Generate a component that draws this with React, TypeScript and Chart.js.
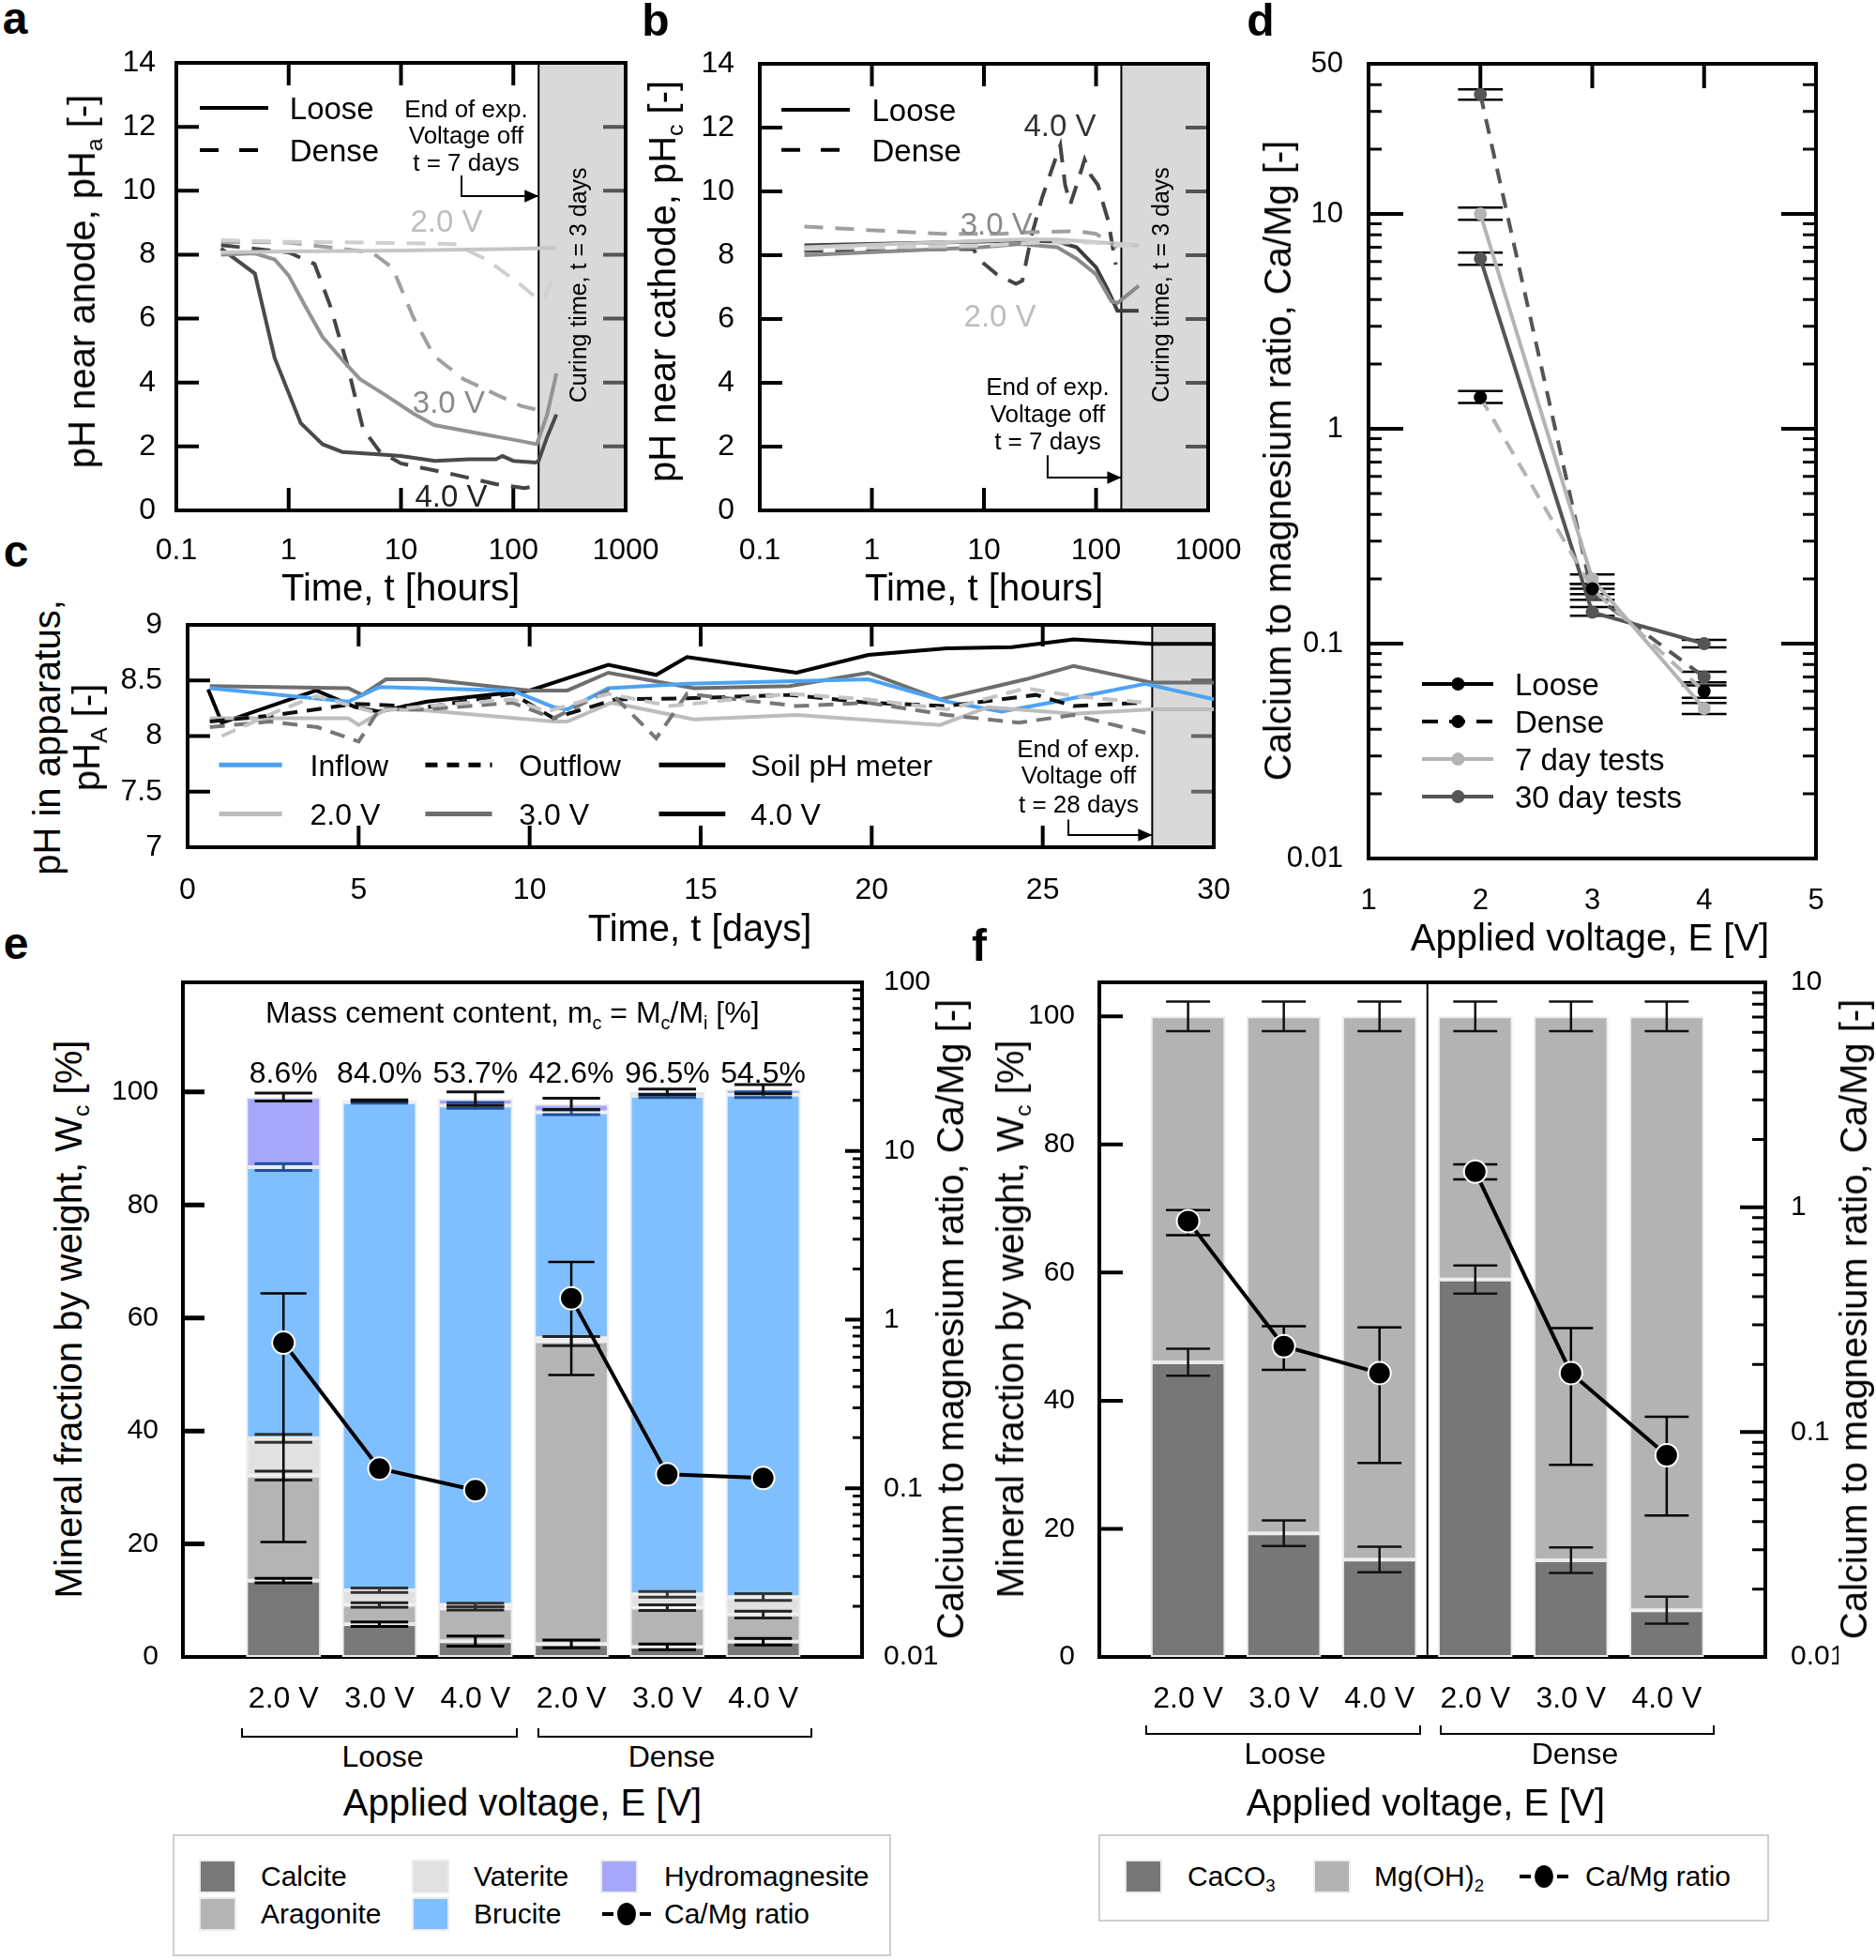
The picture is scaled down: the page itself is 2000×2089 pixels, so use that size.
import React, { useEffect, useRef } from 'react';
import { Chart, registerables } from 'chart.js';

Chart.register(...registerables);

const FONT = "'Liberation Sans', Arial, Helvetica, sans-serif";

/* ================= Panel a : pH near anode ================= */
const HOUR_TICKS = [0.1, 1, 10, 100, 1000];
const HOUR_TICK_LABELS = ['0.1', '1', '10', '100', '1000'];
const PH_TICKS = [0, 2, 4, 6, 8, 10, 12, 14];
const PH_TICK_LABELS = ['0', '2', '4', '6', '8', '10', '12', '14'];
const CURING_START_H = 168;
const CURING_END_H = 1000;

const A_LOOSE_4V_T = [0.25, 0.5, 0.75, 1.28, 2.0, 3.0, 5.5, 10, 20, 40, 70, 80, 100, 158, 168, 200, 242];
const A_LOOSE_4V_PH = [8.19, 7.41, 4.77, 2.73, 2.07, 1.83, 1.77, 1.7, 1.55, 1.6, 1.6, 1.7, 1.55, 1.5, 1.55, 2.3, 3.0];
const A_LOOSE_3V_T = [0.25, 0.5, 0.75, 1.0, 1.4, 2.0, 3.0, 4.3, 7.1, 12.9, 19.7, 46, 108, 162, 200, 242];
const A_LOOSE_3V_PH = [8.0, 8.04, 7.85, 7.35, 6.4, 5.43, 4.71, 4.11, 3.63, 3.03, 2.67, 2.43, 2.19, 2.07, 3.0, 4.29];
const A_LOOSE_2V_T = [0.25, 1, 10, 100, 242];
const A_LOOSE_2V_PH = [8.07, 8.1, 8.13, 8.18, 8.21];
const A_DENSE_2V_T = [0.25, 1, 5, 30, 59, 117, 163, 190, 220];
const A_DENSE_2V_PH = [8.45, 8.4, 8.38, 8.33, 7.83, 7.05, 6.63, 6.7, 7.17];
const A_DENSE_3V_T = [0.25, 1, 5.5, 8.4, 12.9, 19.7, 36, 70, 117, 163];
const A_DENSE_3V_PH = [8.4, 8.38, 8.07, 7.59, 6.03, 4.83, 4.11, 3.63, 3.27, 3.15];
const A_DENSE_4V_T = [0.25, 1, 1.7, 2.35, 3.3, 4.6, 6.5, 10, 30, 70, 126, 162];
const A_DENSE_4V_PH = [8.3, 8.07, 7.71, 6.39, 4.59, 2.55, 1.83, 1.47, 1.12, 0.82, 0.7, 0.76];

/* ================= Panel b : pH near cathode ================= */
const B_LOOSE_4V_T = [0.25, 9.5, 21, 45, 67, 100, 127, 155, 168, 240];
const B_LOOSE_4V_PH = [8.31, 8.43, 8.46, 8.43, 8.25, 7.62, 6.92, 6.26, 6.26, 6.26];
const B_LOOSE_3V_T = [0.25, 9.5, 21, 45, 67, 100, 137, 155, 240];
const B_LOOSE_3V_PH = [8.0, 8.25, 8.35, 8.25, 7.89, 7.4, 6.56, 6.5, 7.04];
const B_LOOSE_2V_T = [0.25, 21, 45, 150, 240];
const B_LOOSE_2V_PH = [8.25, 8.49, 8.49, 8.37, 8.3];
const B_DENSE_3V_T = [0.25, 0.91, 4.3, 14, 30, 67, 100, 137, 155];
const B_DENSE_3V_PH = [8.9, 8.79, 8.67, 8.67, 8.73, 8.75, 8.67, 8.37, 8.25];
const B_DENSE_2V_T = [0.25, 10, 30, 100, 160, 240];
const B_DENSE_2V_PH = [8.2, 8.3, 8.4, 8.4, 8.3, 8.3];
const B_DENSE_4V_T = [0.25, 8, 9.5, 13, 19.3, 22, 26.5, 33, 42, 48, 53, 59, 70, 79, 90, 104, 116, 128, 150];
const B_DENSE_4V_PH = [8.13, 8.2, 7.8, 7.4, 7.1, 7.2, 8.6, 9.8, 10.87, 11.44, 10.2, 9.6, 10.4, 11.0, 10.5, 10.2, 9.6, 9.1, 7.7];

/* ================= Panel c : pH in apparatus ================= */
const DAY_TICKS = [0, 5, 10, 15, 20, 25, 30];
const DAY_TICK_LABELS = ['0', '5', '10', '15', '20', '25', '30'];
const PHA_TICKS = [7, 7.5, 8, 8.5, 9];
const PHA_TICK_LABELS = ['7', '7.5', '8', '8.5', '9'];
const CURING_START_D = 28.2;

const C_INFLOW_D = [0.65, 4.7, 5.6, 9.5, 10.7, 11.1, 12.3, 14.6, 19.9, 22.2, 23.8, 25.2, 28.0, 30];
const C_INFLOW_PH = [8.43, 8.31, 8.44, 8.41, 8.26, 8.24, 8.43, 8.47, 8.51, 8.31, 8.22, 8.3, 8.47, 8.33];
const C_SOIL_3V_D = [0.65, 4.7, 5.1, 5.8, 7.0, 10, 11.1, 12.3, 14.8, 17.6, 19.9, 22.0, 24.5, 25.9, 28.2, 30];
const C_SOIL_3V_PH = [8.45, 8.43, 8.37, 8.51, 8.51, 8.41, 8.41, 8.57, 8.43, 8.45, 8.57, 8.33, 8.51, 8.63, 8.48, 8.48];
const C_SOIL_4V_D = [0.6, 1.0, 3.76, 4.9, 5.6, 7.0, 10, 11.1, 12.3, 13.7, 14.6, 17.8, 19.9, 22.2, 24.1, 25.9, 28.2, 30];
const C_SOIL_4V_PH = [8.42, 8.12, 8.41, 8.26, 8.22, 8.31, 8.41, 8.52, 8.64, 8.55, 8.71, 8.57, 8.73, 8.79, 8.8, 8.87, 8.83, 8.83];
const C_SOIL_2V_D = [0.65, 4.7, 5.0, 5.8, 7.0, 10.7, 11.1, 12.4, 14.8, 17.8, 22.0, 23.4, 25.9, 28.2, 30];
const C_SOIL_2V_PH = [8.16, 8.16, 8.1, 8.24, 8.23, 8.13, 8.13, 8.3, 8.15, 8.19, 8.1, 8.26, 8.2, 8.24, 8.24];
const C_OUT_4V_D = [0.65, 2.6, 4.9, 7.0, 9.5, 10.7, 12.5, 14.6, 17.6, 19.9, 22.2, 24.8, 25.9, 28.0];
const C_OUT_4V_PH = [8.13, 8.19, 8.29, 8.26, 8.38, 8.16, 8.33, 8.34, 8.37, 8.3, 8.27, 8.37, 8.27, 8.3];
const C_OUT_3V_D = [0.65, 2.4, 3.8, 5.0, 5.6, 7.0, 9.5, 10.7, 12.3, 13.7, 14.6, 17.8, 19.9, 22.2, 24.3, 25.9, 28.0];
const C_OUT_3V_PH = [8.08, 8.13, 8.08, 7.95, 8.24, 8.24, 8.3, 8.16, 8.41, 7.98, 8.38, 8.27, 8.3, 8.19, 8.12, 8.19, 8.03];
const C_OUT_2V_D = [1.0, 2.6, 3.76, 5.4, 7.0, 9.5, 10.5, 12.3, 14.1, 17.6, 19.9, 22.2, 24.5, 25.9, 28.0];
const C_OUT_2V_PH = [8.0, 8.22, 8.36, 8.22, 8.27, 8.33, 8.22, 8.38, 8.27, 8.38, 8.33, 8.24, 8.43, 8.36, 8.3];

/* ================= Panel d : Ca/Mg vs voltage ================= */
const D_VOLTAGE = [2, 3, 4];
const D_XTICKS = [1, 2, 3, 4, 5];
const D_XTICK_LABELS = ['1', '2', '3', '4', '5'];
const D_YTICKS = [0.01, 0.1, 1, 10, 50];
const D_YTICK_LABELS = ['0.01', '0.1', '1', '10', '50'];
const D_LOOSE7 = [10, 0.2, 0.05];
const D_LOOSE7_LO = [9.4, 0.19, 0.047];
const D_LOOSE7_HI = [10.7, 0.21, 0.053];
const D_DENSE7 = [1.4, 0.18, 0.06];
const D_DENSE7_LO = [1.32, 0.17, 0.056];
const D_DENSE7_HI = [1.5, 0.19, 0.064];
const D_LOOSE30 = [6.2, 0.14, 0.1];
const D_LOOSE30_LO = [5.8, 0.135, 0.096];
const D_LOOSE30_HI = [6.6, 0.148, 0.104];
const D_DENSE30 = [36, 0.17, 0.07];
const D_DENSE30_LO = [34, 0.16, 0.066];
const D_DENSE30_HI = [38, 0.18, 0.074];

/* ================= Panel e : mineral fractions (XRD) ================= */
const BAR_LABELS = ['2.0 V', '3.0 V', '4.0 V', '2.0 V', '3.0 V', '4.0 V'];
const E_CALCITE = [13.5, 5.8, 2.8, 2.3, 1.8, 2.7];
const E_ARAGONITE = [18.6, 3.4, 5.8, 53.6, 6.9, 4.8];
const E_VATERITE = [6.6, 2.6, 0.6, 0.5, 2.4, 3.1];
const E_BRUCITE = [48.0, 86.4, 88.4, 40.0, 88.2, 88.9];
const E_HYDRO = [12.4, 0.3, 1.2, 1.5, 0.7, 1.0];
const E_CALCITE_ERR = [0.4, 0.4, 0.9, 0.7, 0.5, 0.6];
const E_ARAGONITE_ERR = [0.8, 0.4, 0.3, 0.8, 0.5, 0.6];
const E_VATERITE_ERR = [0.7, 0.4, 0.3, 0.0, 0.5, 0.6];
const E_BRUCITE_ERR = [0.6, 0.2, 0.5, 0.4, 0.3, 0.5];
const E_HYDRO_ERR = [0.7, 0.1, 1.2, 1.0, 0.5, 0.8];
const E_RATIO = [0.73, 0.131, 0.0975, 1.34, 0.121, 0.115];
const E_RATIO_LO = [0.048, 0.131, 0.0975, 0.47, 0.121, 0.115];
const E_RATIO_HI = [1.43, 0.131, 0.0975, 2.2, 0.121, 0.115];
const E_CEMENT = ['8.6%', '84.0%', '53.7%', '42.6%', '96.5%', '54.5%'];
const E_WT_TICKS = [0, 20, 40, 60, 80, 100];
const E_WT_LABELS = ['0', '20', '40', '60', '80', '100'];
const E_RATIO_TICKS = [0.01, 0.1, 1, 10, 100];
const E_RATIO_LABELS = ['0.01', '0.1', '1', '10', '100'];

/* ================= Panel f : mineral fractions (TGA) ================= */
const F_CACO3 = [46.0, 19.3, 15.2, 58.9, 15.1, 7.3];
const F_MGOH2 = [54.0, 80.7, 84.8, 41.1, 84.9, 92.7];
const F_CACO3_ERR = [2.1, 2.0, 2.0, 2.2, 2.0, 2.1];
const F_MGOH2_ERR = [2.3, 2.3, 2.3, 2.3, 2.3, 2.3];
const F_RATIO = [0.868, 0.241, 0.183, 1.44, 0.183, 0.0789];
const F_RATIO_LO = [0.75, 0.189, 0.0729, 1.33, 0.0715, 0.0426];
const F_RATIO_HI = [0.97, 0.296, 0.292, 1.55, 0.29, 0.117];
const F_RATIO_TICKS = [0.01, 0.1, 1, 10];
const F_RATIO_LABELS = ['0.01', '0.1', '1', '10'];

/* ================= helpers ================= */
function logMinor(min: number, max: number) {
  const out: number[] = [];
  for (let d = Math.floor(Math.log10(min)); d <= Math.ceil(Math.log10(max)); d++) {
    for (let m = 2; m <= 9; m++) {
      const v = +(m * Math.pow(10, d)).toPrecision(6);
      if (v > min * 1.0001 && v < max * 0.9999) out.push(v);
    }
  }
  return out;
}

function pts(xs: number[], ys: number[]) {
  return xs.map((x, i) => ({ x, y: ys[i] }));
}

function lineDs(label: string, xs: number[], ys: number[], color: string, width: number, dash: number[] = [], extra: any = {}) {
  return {
    type: 'line', label, data: pts(xs, ys), borderColor: color, backgroundColor: color,
    borderWidth: width, borderDash: dash, pointRadius: 0, fill: false, tension: 0, ...extra,
  };
}

function scale(o: any) {
  return {
    type: o.type, min: o.min, max: o.max, position: o.position, stacked: !!o.stacked, offset: false,
    grid: { display: false, drawTicks: false }, border: { display: false },
    afterBuildTicks: (s: any) => { s.ticks = o.ticks.map((v: number) => ({ value: v })); },
    afterFit: (s: any) => {
      if (o.w != null) s.width = o.w;
      if (o.h != null) s.height = o.h;
      s.paddingTop = 0; s.paddingBottom = 0; s.paddingLeft = 0; s.paddingRight = 0;
    },
    ticks: {
      font: { family: FONT, size: o.size }, color: '#000', padding: o.pad, autoSkip: false,
      maxRotation: 0, minRotation: 0, callback: (_v: any, i: number) => o.labels[i],
    },
  };
}

function drawRich(ctx: any, item: any, px: number, py: number) {
  const segs = item.segs || [{ t: item.text }];
  const size = item.size;
  const parts = segs.map((s: any) => {
    const fs = s.sub ? size * 0.62 : size;
    ctx.font = `${item.bold ? 'bold ' : ''}${fs}px ${FONT}`;
    return { s, fs, w: ctx.measureText(s.t).width };
  });
  const total = parts.reduce((a: number, p: any) => a + p.w, 0);
  ctx.save();
  ctx.translate(px, py);
  if (item.rotate) ctx.rotate((item.rotate * Math.PI) / 180);
  let x0 = item.align === 'left' ? 0 : item.align === 'right' ? -total : -total / 2;
  ctx.fillStyle = item.color || '#000';
  ctx.textBaseline = 'alphabetic';
  ctx.textAlign = 'left';
  const base = size * 0.36;
  for (const p of parts) {
    ctx.font = `${item.bold ? 'bold ' : ''}${p.fs}px ${FONT}`;
    ctx.fillText(p.s.t, x0, base + (p.s.sub ? size * 0.22 : 0));
    x0 += p.w;
  }
  ctx.restore();
}

function makeDeco(cfg: any) {
  const P = (chart: any, id: string, v: number) => chart.scales[id].getPixelForValue(v);
  const drawErrors = (chart: any) => {
    const ctx = chart.ctx;
    for (const e of cfg.errors || []) {
      if (e.hi === e.lo) continue;
      const xs = e.xs || 'x';
      const x = P(chart, xs, e.x);
      const xl = P(chart, xs, e.x - e.half);
      const xr = P(chart, xs, e.x + e.half);
      const yl = P(chart, e.ys, e.lo);
      const yh = P(chart, e.ys, e.hi);
      ctx.strokeStyle = e.color;
      ctx.lineWidth = e.width;
      ctx.setLineDash([]);
      ctx.beginPath();
      ctx.moveTo(x, yl); ctx.lineTo(x, yh);
      ctx.moveTo(xl, yl); ctx.lineTo(xr, yl);
      ctx.moveTo(xl, yh); ctx.lineTo(xr, yh);
      ctx.stroke();
    }
  };
  let errDone = false;
  return {
    id: 'deco',
    beforeDraw() { errDone = false; },
    beforeDatasetsDraw(chart: any) {
      const ctx = chart.ctx;
      const a = chart.chartArea;
      ctx.save();
      for (const s of cfg.shades || []) {
        const x1 = P(chart, s.scale, s.from);
        const x2 = Math.min(a.right, P(chart, s.scale, s.to));
        ctx.fillStyle = s.color;
        ctx.fillRect(x1, a.top, x2 - x1, a.bottom - a.top);
      }
      for (const v of cfg.vlines || []) {
        const x = P(chart, v.scale, v.value);
        ctx.strokeStyle = v.color; ctx.lineWidth = v.width; ctx.setLineDash([]);
        ctx.beginPath(); ctx.moveTo(x, a.top); ctx.lineTo(x, a.bottom); ctx.stroke();
      }
      for (const t of cfg.ticks || []) {
        const sc = chart.scales[t.scale];
        ctx.strokeStyle = t.color; ctx.lineWidth = t.width; ctx.setLineDash([]);
        ctx.beginPath();
        for (const v of t.values) {
          const p = sc.getPixelForValue(v);
          if (t.side === 'top') { ctx.moveTo(p, a.top); ctx.lineTo(p, a.top + t.len); }
          else if (t.side === 'bottom') { ctx.moveTo(p, a.bottom); ctx.lineTo(p, a.bottom - t.len); }
          else if (t.side === 'left') { ctx.moveTo(a.left, p); ctx.lineTo(a.left + t.len, p); }
          else { ctx.moveTo(a.right, p); ctx.lineTo(a.right - t.len, p); }
        }
        ctx.stroke();
      }
      if (cfg.frame) {
        ctx.strokeStyle = cfg.frame.color; ctx.lineWidth = cfg.frame.width; ctx.setLineDash([]);
        ctx.strokeRect(a.left, a.top, a.right - a.left, a.bottom - a.top);
      }
      if (cfg.errLayer === 'under') drawErrors(chart);
      ctx.restore();
    },
    beforeDatasetDraw(chart: any, args: any) {
      if (cfg.errLayer === 'beforeLine' && !errDone && args.meta.type === 'line') {
        errDone = true;
        chart.ctx.save();
        drawErrors(chart);
        chart.ctx.restore();
      }
    },
    afterDatasetsDraw(chart: any) {
      const ctx = chart.ctx;
      ctx.save();
      if (cfg.errLayer === 'over') drawErrors(chart);
      for (const ar of cfg.arrows || []) {
        const Q = ar.pts.map((p: number[]) => [P(chart, ar.xs || 'x', p[0]), P(chart, ar.ys || 'y', p[1])]);
        ctx.strokeStyle = ar.color; ctx.lineWidth = ar.width; ctx.setLineDash([]);
        ctx.beginPath();
        Q.forEach((p: number[], i: number) => (i ? ctx.lineTo(p[0], p[1]) : ctx.moveTo(p[0], p[1])));
        ctx.stroke();
        const [x2, y2] = Q[Q.length - 1];
        const [x1, y1] = Q[Q.length - 2];
        const ang = Math.atan2(y2 - y1, x2 - x1);
        const h = ar.head;
        ctx.fillStyle = ar.color;
        ctx.beginPath();
        ctx.moveTo(x2, y2);
        ctx.lineTo(x2 - h * Math.cos(ang) + h * 0.45 * Math.sin(ang), y2 - h * Math.sin(ang) - h * 0.45 * Math.cos(ang));
        ctx.lineTo(x2 - h * Math.cos(ang) - h * 0.45 * Math.sin(ang), y2 - h * Math.sin(ang) + h * 0.45 * Math.cos(ang));
        ctx.closePath();
        ctx.fill();
      }
      for (const l of cfg.legend || []) {
        const xs = l.xs || 'x';
        const ys = l.ys || 'y';
        const y = P(chart, ys, l.y);
        ctx.strokeStyle = l.color; ctx.lineWidth = l.width; ctx.setLineDash(l.dash || []);
        ctx.beginPath(); ctx.moveTo(P(chart, xs, l.x1), y); ctx.lineTo(P(chart, xs, l.x2), y); ctx.stroke();
        ctx.setLineDash([]);
        if (l.marker) {
          ctx.fillStyle = l.marker.color;
          ctx.beginPath(); ctx.arc(P(chart, xs, l.marker.x), y, l.marker.r, 0, Math.PI * 2); ctx.fill();
        }
      }
      for (const t of cfg.texts || []) {
        drawRich(ctx, t, P(chart, t.xs || 'x', t.x), P(chart, t.ys || 'y', t.y));
      }
      ctx.restore();
    },
  };
}

function config(type: string, datasets: any[], scales: any, padding: any, deco: any) {
  return {
    type,
    data: { datasets },
    options: {
      responsive: false, animation: false, devicePixelRatio: 1, events: [],
      layout: { padding },
      plugins: { legend: { display: false }, tooltip: { enabled: false } },
      scales,
    },
    plugins: [makeDeco(deco)],
  };
}

/* ================= panel builders ================= */
const DARK = '#4a4a4a';
const MID = '#939393';
const LIGHT = '#c6c6c6';
const DASH = [20, 13];

function hourAxes(fitW: number, yPad: number) {
  return {
    x: scale({ type: 'logarithmic', min: 0.1, max: 1000, ticks: HOUR_TICKS, labels: HOUR_TICK_LABELS, size: 32, pad: 24, h: 116 }),
    y: scale({ type: 'linear', min: 0, max: 14, ticks: PH_TICKS, labels: PH_TICK_LABELS, size: 32, pad: yPad, w: fitW }),
  };
}

function hourTicks() {
  return [
    { scale: 'x', side: 'top', values: [1, 10, 100], len: 24, width: 4, color: '#000' },
    { scale: 'x', side: 'bottom', values: [1, 10, 100], len: 24, width: 4, color: '#000' },
    { scale: 'y', side: 'left', values: [2, 4, 6, 8, 10, 12], len: 24, width: 4, color: '#000' },
    { scale: 'y', side: 'right', values: [2, 4, 6, 8, 10, 12], len: 24, width: 4, color: '#555' },
  ];
}

function makeA() {
  const ds = [
    lineDs('Loose 2.0 V', A_LOOSE_2V_T, A_LOOSE_2V_PH, LIGHT, 4),
    lineDs('Dense 2.0 V', A_DENSE_2V_T, A_DENSE_2V_PH, '#cfcfcf', 4, DASH),
    lineDs('Loose 3.0 V', A_LOOSE_3V_T, A_LOOSE_3V_PH, MID, 4),
    lineDs('Dense 3.0 V', A_DENSE_3V_T, A_DENSE_3V_PH, '#a0a0a0', 4, DASH),
    lineDs('Dense 4.0 V', A_DENSE_4V_T, A_DENSE_4V_PH, '#454545', 4, DASH),
    lineDs('Loose 4.0 V', A_LOOSE_4V_T, A_LOOSE_4V_PH, DARK, 4),
  ];
  const deco = {
    shades: [{ scale: 'x', from: CURING_START_H, to: CURING_END_H, color: '#d9d9d9' }],
    vlines: [{ scale: 'x', value: CURING_START_H, width: 2, color: '#000' }],
    ticks: hourTicks(),
    frame: { width: 4, color: '#000' },
    arrows: [{ pts: [[34.6, 10.48], [34.6, 9.83], [CURING_START_H, 9.83]], color: '#000', width: 2, head: 15 }],
    legend: [
      { x1: 0.162, x2: 0.658, y: 12.59, color: '#000', width: 4 },
      { x1: 0.162, x2: 0.658, y: 11.27, color: '#000', width: 4, dash: [20, 22] },
    ],
    texts: [
      { x: 1.02, y: 12.59, text: 'Loose', size: 33, align: 'left' },
      { x: 1.02, y: 11.27, text: 'Dense', size: 33, align: 'left' },
      { x: 38, y: 12.56, text: 'End of exp.', size: 26 },
      { x: 38, y: 11.74, text: 'Voltage off', size: 26 },
      { x: 38, y: 10.89, text: 't = 7 days', size: 26 },
      { x: 25.4, y: 9.07, text: '2.0 V', size: 33, color: '#bdbdbd' },
      { x: 26.6, y: 3.4, text: '3.0 V', size: 33, color: '#8a8a8a' },
      { x: 28, y: 0.47, text: '4.0 V', size: 33, color: '#222' },
      { x: 375, y: 7.05, text: 'Curing time, t = 3 days', size: 25, rotate: -90 },
    ],
  };
  return config('line', ds, hourAxes(88, 22), { left: 0, top: 27, right: 36, bottom: 0 }, deco);
}

function makeB() {
  const ds = [
    lineDs('Dense 2.0 V', B_DENSE_2V_T, B_DENSE_2V_PH, '#cfcfcf', 4, DASH),
    lineDs('Dense 3.0 V', B_DENSE_3V_T, B_DENSE_3V_PH, '#a0a0a0', 4, DASH),
    lineDs('Loose 2.0 V', B_LOOSE_2V_T, B_LOOSE_2V_PH, LIGHT, 4),
    lineDs('Loose 3.0 V', B_LOOSE_3V_T, B_LOOSE_3V_PH, '#8a8a8a', 4),
    lineDs('Loose 4.0 V', B_LOOSE_4V_T, B_LOOSE_4V_PH, '#3d3d3d', 4),
    lineDs('Dense 4.0 V', B_DENSE_4V_T, B_DENSE_4V_PH, '#454545', 4, DASH),
  ];
  const deco = {
    shades: [{ scale: 'x', from: CURING_START_H, to: CURING_END_H, color: '#d9d9d9' }],
    vlines: [{ scale: 'x', value: CURING_START_H, width: 2, color: '#000' }],
    ticks: hourTicks(),
    frame: { width: 4, color: '#000' },
    arrows: [{ pts: [[37, 1.73], [37, 1.03], [CURING_START_H, 1.03]], color: '#000', width: 2, head: 15 }],
    legend: [
      { x1: 0.156, x2: 0.635, y: 12.56, color: '#000', width: 4 },
      { x1: 0.156, x2: 0.635, y: 11.3, color: '#000', width: 4, dash: [20, 22] },
    ],
    texts: [
      { x: 1.0, y: 12.56, text: 'Loose', size: 33, align: 'left' },
      { x: 1.0, y: 11.3, text: 'Dense', size: 33, align: 'left' },
      { x: 47.6, y: 12.09, text: '4.0 V', size: 33, color: '#333' },
      { x: 12.9, y: 9.01, text: '3.0 V', size: 33, color: '#8a8a8a' },
      { x: 13.9, y: 6.1, text: '2.0 V', size: 33, color: '#bdbdbd' },
      { x: 37, y: 3.9, text: 'End of exp.', size: 26 },
      { x: 37, y: 3.05, text: 'Voltage off', size: 26 },
      { x: 37, y: 2.2, text: 't = 7 days', size: 26 },
      { x: 374, y: 7.07, text: 'Curing time, t = 3 days', size: 25, rotate: -90 },
    ],
  };
  return config('line', ds, hourAxes(90, 27), { left: 0, top: 28, right: 36, bottom: 0 }, deco);
}

function makeC() {
  const BLUE = '#4da3f2';
  const C2 = '#bdbdbd';
  const C3 = '#6e6e6e';
  const C4 = '#000000';
  const OD = [16, 10];
  const ds = [
    lineDs('Outflow 2.0 V', C_OUT_2V_D, C_OUT_2V_PH, '#c4c4c4', 4, OD),
    lineDs('Outflow 3.0 V', C_OUT_3V_D, C_OUT_3V_PH, '#777777', 4, OD),
    lineDs('Outflow 4.0 V', C_OUT_4V_D, C_OUT_4V_PH, '#111111', 4, OD),
    lineDs('Soil 2.0 V', C_SOIL_2V_D, C_SOIL_2V_PH, C2, 4),
    lineDs('Inflow', C_INFLOW_D, C_INFLOW_PH, BLUE, 4),
    lineDs('Soil 3.0 V', C_SOIL_3V_D, C_SOIL_3V_PH, C3, 4),
    lineDs('Soil 4.0 V', C_SOIL_4V_D, C_SOIL_4V_PH, C4, 4),
  ];
  const deco = {
    shades: [{ scale: 'x', from: CURING_START_D, to: 30, color: '#d9d9d9' }],
    vlines: [{ scale: 'x', value: CURING_START_D, width: 2, color: '#000' }],
    ticks: [
      { scale: 'x', side: 'top', values: [5, 10, 15, 20, 25], len: 23, width: 4, color: '#000' },
      { scale: 'x', side: 'bottom', values: [5, 10, 15, 20, 25], len: 23, width: 4, color: '#000' },
      { scale: 'y', side: 'left', values: [7.5, 8, 8.5], len: 24, width: 4, color: '#000' },
      { scale: 'y', side: 'right', values: [7.5, 8, 8.5], len: 24, width: 4, color: '#666' },
    ],
    frame: { width: 4, color: '#000' },
    arrows: [{ pts: [[25.75, 7.25], [25.75, 7.11], [CURING_START_D, 7.11]], color: '#000', width: 2, head: 15 }],
    legend: [
      { x1: 0.92, x2: 2.76, y: 7.74, color: BLUE, width: 5 },
      { x1: 6.95, x2: 8.9, y: 7.74, color: '#000', width: 5, dash: [13, 10] },
      { x1: 13.78, x2: 15.72, y: 7.74, color: '#000', width: 5 },
      { x1: 0.92, x2: 2.76, y: 7.3, color: C2, width: 5 },
      { x1: 6.95, x2: 8.9, y: 7.3, color: C3, width: 5 },
      { x1: 13.78, x2: 15.72, y: 7.3, color: C4, width: 5 },
    ],
    texts: [
      { x: 3.58, y: 7.74, text: 'Inflow', size: 32, align: 'left' },
      { x: 9.69, y: 7.74, text: 'Outflow', size: 32, align: 'left' },
      { x: 16.46, y: 7.74, text: 'Soil pH meter', size: 32, align: 'left' },
      { x: 3.58, y: 7.3, text: '2.0 V', size: 32, align: 'left' },
      { x: 9.69, y: 7.3, text: '3.0 V', size: 32, align: 'left' },
      { x: 16.46, y: 7.3, text: '4.0 V', size: 32, align: 'left' },
      { x: 26.05, y: 7.89, text: 'End of exp.', size: 26 },
      { x: 26.05, y: 7.65, text: 'Voltage off', size: 26 },
      { x: 26.05, y: 7.39, text: 't = 28 days', size: 26 },
    ],
  };
  const scales = {
    x: scale({ type: 'linear', min: 0, max: 30, ticks: DAY_TICKS, labels: DAY_TICK_LABELS, size: 32, pad: 27, h: 97 }),
    y: scale({ type: 'linear', min: 7, max: 9, ticks: PHA_TICKS, labels: PHA_TICK_LABELS, size: 32, pad: 27, w: 100 }),
  };
  return config('line', ds, scales, { left: 0, top: 26, right: 36, bottom: 0 }, deco);
}

function makeD() {
  const L7 = '#b4b4b4';
  const D30 = '#555555';
  const mk = (label: string, ys: number[], color: string, dash: number[], ptColor: string) =>
    lineDs(label, D_VOLTAGE, ys, color, 4, dash, { pointRadius: 7, pointBackgroundColor: ptColor, pointBorderColor: ptColor, pointBorderWidth: 0 });
  const ds = [
    mk('Dense 7 day', D_DENSE7, L7, [16, 11], '#000'),
    mk('Loose 7 day', D_LOOSE7, L7, [], L7),
    mk('Loose 30 day', D_LOOSE30, D30, [], D30),
    mk('Dense 30 day', D_DENSE30, D30, [16, 11], D30),
  ];
  const errors: any[] = [];
  const add = (lo: number[], hi: number[]) =>
    D_VOLTAGE.forEach((v, i) => errors.push({ x: v, lo: lo[i], hi: hi[i], half: 0.2, ys: 'y', color: '#000', width: 2.5 }));
  add(D_LOOSE7_LO, D_LOOSE7_HI);
  add(D_DENSE7_LO, D_DENSE7_HI);
  add(D_LOOSE30_LO, D_LOOSE30_HI);
  add(D_DENSE30_LO, D_DENSE30_HI);
  const minor = logMinor(0.01, 50);
  const deco = {
    ticks: [
      { scale: 'y', side: 'left', values: [0.1, 1, 10], len: 37, width: 4, color: '#000' },
      { scale: 'y', side: 'left', values: minor, len: 14, width: 3, color: '#000' },
      { scale: 'y', side: 'right', values: [0.1, 1, 10], len: 37, width: 4, color: '#000' },
      { scale: 'y', side: 'right', values: minor, len: 14, width: 3, color: '#000' },
      { scale: 'x', side: 'top', values: [2, 3, 4], len: 26, width: 4, color: '#000' },
    ],
    frame: { width: 4, color: '#000' },
    errors,
    errLayer: 'under',
    legend: [
      { x1: 1.478, x2: 2.115, y: 0.0649, color: '#000', width: 4, marker: { x: 1.8, r: 7, color: '#000' } },
      { x1: 1.478, x2: 2.115, y: 0.0434, color: '#000', width: 4, dash: [17, 12], marker: { x: 1.8, r: 7, color: '#000' } },
      { x1: 1.478, x2: 2.115, y: 0.029, color: L7, width: 4, marker: { x: 1.8, r: 7, color: L7 } },
      { x1: 1.478, x2: 2.115, y: 0.0194, color: D30, width: 4, marker: { x: 1.8, r: 7, color: D30 } },
    ],
    texts: [
      { x: 2.308, y: 0.0649, text: 'Loose', size: 33, align: 'left' },
      { x: 2.308, y: 0.0434, text: 'Dense', size: 33, align: 'left' },
      { x: 2.308, y: 0.029, text: '7 day tests', size: 33, align: 'left' },
      { x: 2.308, y: 0.0194, text: '30 day tests', size: 33, align: 'left' },
    ],
  };
  const scales = {
    x: scale({ type: 'linear', min: 1, max: 5, ticks: D_XTICKS, labels: D_XTICK_LABELS, size: 31, pad: 27, h: 85 }),
    y: scale({ type: 'logarithmic', min: 0.01, max: 50, ticks: D_YTICKS, labels: D_YTICK_LABELS, size: 31, pad: 27, w: 119 }),
  };
  return config('line', ds, scales, { left: 0, top: 28, right: 44, bottom: 0 }, deco);
}

const BAR_POS = BAR_LABELS.map((_, i) => i + 1);

function ratioLines(ratio: number[]) {
  const common = { pointRadius: 12, pointBackgroundColor: '#000', pointBorderColor: '#fff', pointBorderWidth: 2, yAxisID: 'y1', order: 0 };
  return [
    lineDs('Ca/Mg ratio loose', BAR_POS.slice(0, 3), ratio.slice(0, 3), '#000', 4, [], common),
    lineDs('Ca/Mg ratio dense', BAR_POS.slice(3), ratio.slice(3), '#000', 4, [], common),
  ];
}

function barDs(label: string, values: number[], color: string) {
  return {
    type: 'bar', label, data: pts(BAR_POS, values), backgroundColor: color, borderColor: '#ebebeb',
    borderWidth: 2, borderSkipped: false, barPercentage: 0.78, categoryPercentage: 1, yAxisID: 'y', order: 1,
  };
}

function makeE() {
  const layers = [
    { label: 'Calcite', v: E_CALCITE, e: E_CALCITE_ERR, c: '#787878', ec: '#000' },
    { label: 'Aragonite', v: E_ARAGONITE, e: E_ARAGONITE_ERR, c: '#b4b4b4', ec: '#222' },
    { label: 'Vaterite', v: E_VATERITE, e: E_VATERITE_ERR, c: '#e1e1e1', ec: '#333' },
    { label: 'Brucite', v: E_BRUCITE, e: E_BRUCITE_ERR, c: '#80bfff', ec: '#1d4f9a' },
    { label: 'Hydromagnesite', v: E_HYDRO, e: E_HYDRO_ERR, c: '#a6a6fa', ec: '#111' },
  ];
  const ds: any[] = layers.map((l) => barDs(l.label, l.v, l.c));
  ds.push(...ratioLines(E_RATIO));
  const errors: any[] = [];
  BAR_POS.forEach((x, i) => {
    let cum = 0;
    layers.forEach((l) => {
      cum += l.v[i];
      if (l.e[i] > 0) errors.push({ x, lo: cum - l.e[i], hi: cum + l.e[i], half: 0.3, ys: 'y', color: l.ec, width: 3 });
    });
    errors.push({ x, lo: E_RATIO_LO[i], hi: E_RATIO_HI[i], half: 0.24, ys: 'y1', color: '#000', width: 2.5 });
  });
  const minor = logMinor(0.01, 100);
  const deco = {
    ticks: [
      { scale: 'y', side: 'left', values: [20, 40, 60, 80, 100], len: 23, width: 5, color: '#000' },
      { scale: 'y1', side: 'right', values: [0.1, 1, 10], len: 18, width: 4, color: '#000' },
      { scale: 'y1', side: 'right', values: minor, len: 10, width: 3, color: '#000' },
    ],
    frame: { width: 4, color: '#000' },
    errors,
    errLayer: 'beforeLine',
    texts: [
      { x: 3.386, y: 114.1, size: 32, segs: [{ t: 'Mass cement content, m' }, { t: 'c', sub: true }, { t: ' = M' }, { t: 'c', sub: true }, { t: '/M' }, { t: 'i', sub: true }, { t: ' [%]' }] },
      ...E_CEMENT.map((t, i) => ({ x: BAR_POS[i], y: 103.6, text: t, size: 32 })),
    ],
  };
  const scales = {
    x: scale({ type: 'linear', min: -0.048, max: 7.03, stacked: true, ticks: BAR_POS, labels: BAR_LABELS, size: 32, pad: 26, h: 84 }),
    y: scale({ type: 'linear', min: 0, max: 119.4, stacked: true, position: 'left', ticks: E_WT_TICKS, labels: E_WT_LABELS, size: 30, pad: 26, w: 95 }),
    y1: scale({ type: 'logarithmic', min: 0.01, max: 100, position: 'right', ticks: E_RATIO_TICKS, labels: E_RATIO_LABELS, size: 30, pad: 23, w: 81 }),
  };
  return config('bar', ds, scales, { left: 0, top: 27, right: 0, bottom: 0 }, deco);
}

function makeF() {
  const layers = [
    { label: 'CaCO3', v: F_CACO3, e: F_CACO3_ERR, c: '#777777' },
    { label: 'Mg(OH)2', v: F_MGOH2, e: F_MGOH2_ERR, c: '#b3b3b3' },
  ];
  const ds: any[] = layers.map((l) => barDs(l.label, l.v, l.c));
  ds.push(...ratioLines(F_RATIO));
  const errors: any[] = [];
  BAR_POS.forEach((x, i) => {
    let cum = 0;
    layers.forEach((l) => {
      cum += l.v[i];
      errors.push({ x, lo: cum - l.e[i], hi: cum + l.e[i], half: 0.23, ys: 'y', color: '#111', width: 2.5 });
    });
    errors.push({ x, lo: F_RATIO_LO[i], hi: F_RATIO_HI[i], half: 0.23, ys: 'y1', color: '#000', width: 2.5 });
  });
  const minor = logMinor(0.01, 10);
  const deco = {
    vlines: [{ scale: 'x', value: 3.5, width: 2, color: '#000' }],
    ticks: [
      { scale: 'y', side: 'left', values: [20, 40, 60, 80, 100], len: 25, width: 4, color: '#000' },
      { scale: 'y1', side: 'right', values: [0.1, 1], len: 27, width: 4, color: '#000' },
      { scale: 'y1', side: 'right', values: minor, len: 14, width: 3, color: '#000' },
    ],
    frame: { width: 4, color: '#000' },
    errors,
    errLayer: 'beforeLine',
  };
  const scales = {
    x: scale({ type: 'linear', min: 0.073, max: 7.03, stacked: true, ticks: BAR_POS, labels: BAR_LABELS, size: 32, pad: 26, h: 84 }),
    y: scale({ type: 'linear', min: 0, max: 105.3, stacked: true, position: 'left', ticks: E_WT_TICKS, labels: E_WT_LABELS, size: 30, pad: 26, w: 112 }),
    y1: scale({ type: 'logarithmic', min: 0.01, max: 10, position: 'right', ticks: F_RATIO_TICKS, labels: F_RATIO_LABELS, size: 30, pad: 27, w: 78 }),
  };
  return config('bar', ds, scales, { left: 0, top: 27, right: 0, bottom: 0 }, deco);
}

/* ================= React ================= */
function ChartBox({ left, top, width, height, make }: any) {
  const ref = useRef<HTMLCanvasElement | null>(null);
  useEffect(() => {
    const chart = new Chart(ref.current as any, make() as any);
    return () => chart.destroy();
  }, []);
  return <canvas ref={ref} width={width} height={height} style={{ position: 'absolute', left, top, width, height }} />;
}

function Txt({ x, y, size, children, rotate = 0, anchor = 'center', bold = false, color = '#000' }: any) {
  return (
    <div
      style={{
        position: 'absolute', left: x, top: y, fontFamily: FONT, fontSize: size, lineHeight: 1,
        whiteSpace: 'nowrap', color, fontWeight: bold ? 'bold' : 'normal',
        transform: `translate(${anchor === 'left' ? '0' : '-50%'}, -50%) rotate(${rotate}deg)`,
      }}
    >
      {children}
    </div>
  );
}

const Sub = ({ children }: any) => (
  <span style={{ fontSize: '0.62em', position: 'relative', top: '0.32em' }}>{children}</span>
);

function Swatch({ x, y, color }: any) {
  return (
    <div style={{ position: 'absolute', left: x, top: y - 18, width: 40, height: 36, background: color, border: '2px solid #ececec', boxSizing: 'border-box' }} />
  );
}

function RatioSym({ x, y }: any) {
  return (
    <>
      <div style={{ position: 'absolute', left: x, top: y - 2, width: 12, height: 4, background: '#000' }} />
      <div style={{ position: 'absolute', left: x + 16, top: y - 12, width: 20, height: 24, borderRadius: '50%', background: '#000' }} />
      <div style={{ position: 'absolute', left: x + 40, top: y - 2, width: 12, height: 4, background: '#000' }} />
    </>
  );
}

function Bracket({ x1, x2, y }: any) {
  return (
    <div style={{ position: 'absolute', left: x1, top: y - 10, width: x2 - x1, height: 10, borderLeft: '2px solid #000', borderRight: '2px solid #000', borderBottom: '2px solid #000', boxSizing: 'border-box' }} />
  );
}

export default function App() {
  return (
    <div style={{ position: 'absolute', left: 0, top: 0, width: 2000, height: 2089, background: '#fff', overflow: 'hidden' }}>
      <ChartBox left={100} top={40} width={603} height={620} make={makeA} />
      <ChartBox left={720} top={40} width={604} height={620} make={makeB} />
      <ChartBox left={100} top={640} width={1230} height={360} make={makeC} />
      <ChartBox left={1340} top={40} width={640} height={960} make={makeD} />
      <ChartBox left={100} top={1020} width={900} height={830} make={makeE} />
      <ChartBox left={1060} top={1020} width={900} height={830} make={makeF} />

      {/* panel letters */}
      <Txt x={16} y={20} size={48} bold>a</Txt>
      <Txt x={699} y={22} size={48} bold>b</Txt>
      <Txt x={17} y={588} size={48} bold>c</Txt>
      <Txt x={1344} y={22} size={48} bold>d</Txt>
      <Txt x={17} y={1006} size={48} bold>e</Txt>
      <Txt x={1044} y={1008} size={48} bold>f</Txt>

      {/* axis titles a, b */}
      <Txt x={87} y={300} size={40} rotate={-90}>pH near anode, pH<Sub>a</Sub> [-]</Txt>
      <Txt x={427} y={626} size={40}>Time, t [hours]</Txt>
      <Txt x={706} y={300} size={40} rotate={-90}>pH near cathode, pH<Sub>c</Sub> [-]</Txt>
      <Txt x={1049} y={626} size={40}>Time, t [hours]</Txt>

      {/* axis titles c */}
      <Txt x={50} y={786} size={40} rotate={-90}>pH in apparatus,</Txt>
      <Txt x={92} y={786} size={40} rotate={-90}>pH<Sub>A</Sub> [-]</Txt>
      <Txt x={746} y={989} size={40}>Time, t [days]</Txt>

      {/* axis titles d */}
      <Txt x={1362} y={491} size={40} rotate={-90}>Calcium to magnesium ratio, Ca/Mg [-]</Txt>
      <Txt x={1695} y={999} size={40}>Applied voltage, E [V]</Txt>

      {/* panel e titles */}
      <Txt x={73} y={1406} size={40} rotate={-90}>Mineral fraction by weight, W<Sub>c</Sub> [%]</Txt>
      <Txt x={1013} y={1406} size={40} rotate={-90}>Calcium to magnesium ratio, Ca/Mg [-]</Txt>
      <Bracket x1={257} x2={552} y={1852} />
      <Bracket x1={573} x2={866} y={1852} />
      <Txt x={408} y={1872} size={32}>Loose</Txt>
      <Txt x={716} y={1872} size={32}>Dense</Txt>
      <Txt x={557} y={1921} size={40}>Applied voltage, E [V]</Txt>

      {/* panel f titles */}
      <Txt x={1077} y={1406} size={40} rotate={-90}>Mineral fraction by weight, W<Sub>c</Sub> [%]</Txt>
      <Txt x={1976} y={1406} size={40} rotate={-90}>Calcium to magnesium ratio, Ca/Mg [-]</Txt>
      <Bracket x1={1221} x2={1515} y={1849} />
      <Bracket x1={1535} x2={1828} y={1849} />
      <Txt x={1370} y={1869} size={32}>Loose</Txt>
      <Txt x={1679} y={1869} size={32}>Dense</Txt>
      <Txt x={1520} y={1921} size={40}>Applied voltage, E [V]</Txt>

      {/* legend e */}
      <div style={{ position: 'absolute', left: 184, top: 1955, width: 766, height: 130, border: '2px solid #cfcfcf', boxSizing: 'border-box' }} />
      <Swatch x={212} y={2000} color="#787878" />
      <Txt x={278} y={2000} size={30} anchor="left">Calcite</Txt>
      <Swatch x={439} y={2000} color="#e1e1e1" />
      <Txt x={505} y={2000} size={30} anchor="left">Vaterite</Txt>
      <Swatch x={640} y={2000} color="#a6a6fa" />
      <Txt x={708} y={2000} size={30} anchor="left">Hydromagnesite</Txt>
      <Swatch x={212} y={2040} color="#b4b4b4" />
      <Txt x={278} y={2040} size={30} anchor="left">Aragonite</Txt>
      <Swatch x={439} y={2040} color="#80bfff" />
      <Txt x={505} y={2040} size={30} anchor="left">Brucite</Txt>
      <RatioSym x={642} y={2040} />
      <Txt x={708} y={2040} size={30} anchor="left">Ca/Mg ratio</Txt>

      {/* legend f */}
      <div style={{ position: 'absolute', left: 1171, top: 1955, width: 715, height: 93, border: '2px solid #cfcfcf', boxSizing: 'border-box' }} />
      <Swatch x={1199} y={2000} color="#777777" />
      <Txt x={1266} y={2000} size={30} anchor="left">CaCO<Sub>3</Sub></Txt>
      <Swatch x={1400} y={2000} color="#b3b3b3" />
      <Txt x={1465} y={2000} size={30} anchor="left">Mg(OH)<Sub>2</Sub></Txt>
      <RatioSym x={1620} y={2000} />
      <Txt x={1690} y={2000} size={30} anchor="left">Ca/Mg ratio</Txt>
    </div>
  );
}
